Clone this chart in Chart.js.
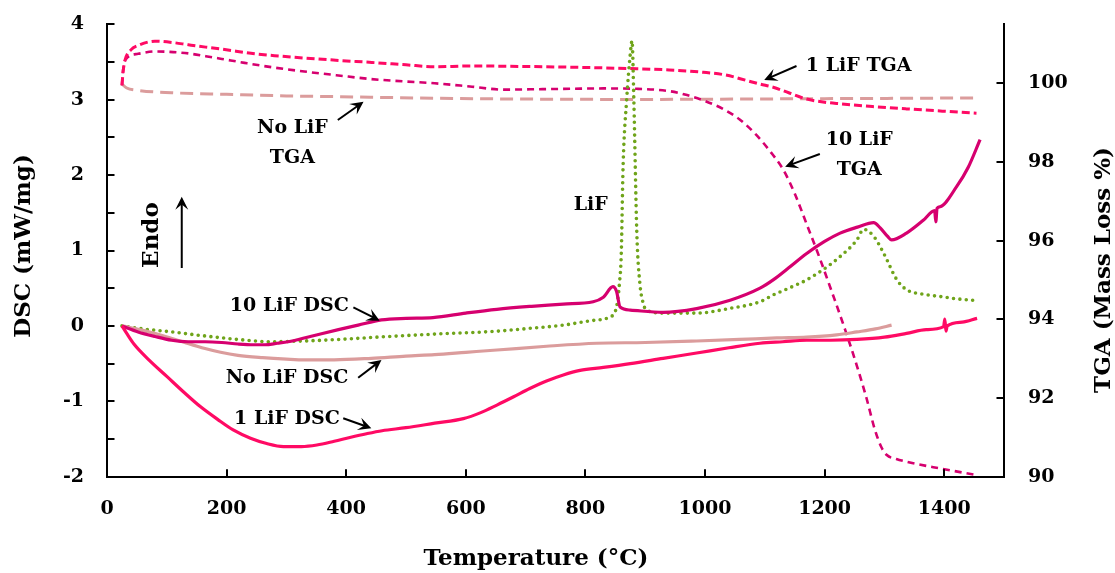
<!DOCTYPE html>
<html>
<head>
<meta charset="utf-8">
<script src="https://cdn.jsdelivr.net/npm/chart.js@4.4.1/dist/chart.umd.min.js"></script>
<style>
  html, body { margin: 0; padding: 0; background: #fff; }
  canvas { display: block; }
</style>
</head>
<body>
<canvas id="c" width="1115" height="573"></canvas>
<script>
// ---- tick labels ----
const xTicks = [0, 200, 400, 600, 800, 1000, 1200, 1400];
const dscTicks = [-2, -1, 0, 1, 2, 3, 4];
const dscMinorTicks = [-1.5, -0.5, 0.5, 1.5, 2.5, 3.5];
const tgaTicks = [90, 92, 94, 96, 98, 100];

// ---- 1 LiF DSC (mW/mg) ----
const dsc1T = [25, 33, 45, 70, 100, 130, 156, 185, 211, 240, 267, 295, 325, 351, 380, 406, 434, 460, 500, 548, 596, 625, 652, 680, 707, 735, 763, 791, 830, 875, 930, 986, 1040, 1092, 1130, 1170, 1210, 1254, 1300, 1337, 1370, 1399, 1401, 1403, 1405, 1430, 1455];
const dsc1V = [0.0, -0.10, -0.24, -0.45, -0.67, -0.89, -1.07, -1.24, -1.38, -1.49, -1.56, -1.60, -1.60, -1.58, -1.53, -1.48, -1.43, -1.39, -1.35, -1.29, -1.23, -1.15, -1.05, -0.94, -0.83, -0.73, -0.65, -0.59, -0.55, -0.50, -0.43, -0.36, -0.29, -0.23, -0.21, -0.19, -0.19, -0.18, -0.15, -0.10, -0.05, -0.01, 0.09, -0.07, 0.00, 0.05, 0.10];

// ---- 10 LiF DSC (mW/mg) ----
const dsc10T = [25, 52, 80, 108, 136, 164, 192, 219, 245, 264, 285, 303, 340, 387, 420, 459, 500, 545, 600, 652, 710, 763, 813, 830, 846, 852, 858, 875, 930, 986, 1042, 1092, 1114, 1140, 1170, 1200, 1226, 1255, 1282, 1293, 1305, 1312, 1337, 1365, 1384, 1386, 1388, 1393, 1421, 1440, 1460];
const dsc10V = [0.0, -0.08, -0.14, -0.19, -0.21, -0.21, -0.22, -0.24, -0.25, -0.25, -0.23, -0.21, -0.14, -0.05, 0.01, 0.08, 0.10, 0.11, 0.17, 0.22, 0.26, 0.29, 0.32, 0.38, 0.52, 0.46, 0.25, 0.21, 0.18, 0.23, 0.34, 0.50, 0.61, 0.77, 0.96, 1.12, 1.23, 1.31, 1.37, 1.30, 1.19, 1.14, 1.23, 1.40, 1.53, 1.38, 1.56, 1.58, 1.85, 2.10, 2.47];

// ---- No LiF DSC (mW/mg) ----
const dscNoT = [25, 60, 102, 130, 164, 190, 219, 260, 300, 331, 380, 442, 500, 548, 600, 652, 735, 819, 900, 986, 1058, 1120, 1170, 1220, 1254, 1285, 1312];
const dscNoV = [0.0, -0.06, -0.15, -0.22, -0.30, -0.35, -0.39, -0.42, -0.44, -0.45, -0.45, -0.43, -0.40, -0.38, -0.35, -0.32, -0.27, -0.23, -0.22, -0.20, -0.18, -0.16, -0.15, -0.12, -0.08, -0.04, 0.01];

// ---- LiF DSC (mW/mg) ----
const dscLiFT = [25, 60, 108, 160, 219, 275, 330, 387, 450, 545, 652, 710, 763, 810, 841, 852, 857, 860, 863, 869, 875, 878, 881, 886, 891, 896, 902, 930, 986, 1040, 1092, 1114, 1140, 1170, 1200, 1226, 1254, 1265, 1282, 1299, 1321, 1337, 1365, 1393, 1420, 1449];
const dscLiFV = [0.0, -0.04, -0.08, -0.13, -0.18, -0.21, -0.20, -0.18, -0.15, -0.11, -0.07, -0.03, 0.01, 0.07, 0.12, 0.25, 0.57, 0.96, 2.11, 3.00, 3.60, 3.78, 3.00, 1.23, 0.57, 0.32, 0.21, 0.17, 0.17, 0.23, 0.32, 0.41, 0.50, 0.61, 0.76, 0.92, 1.14, 1.28, 1.19, 0.96, 0.61, 0.48, 0.42, 0.39, 0.36, 0.34];

// ---- 1 LiF TGA (mass %) ----
const tga1T = [25, 27, 30, 40, 52, 80, 108, 136, 165, 192, 247, 290, 331, 390, 443, 500, 548, 607, 690, 774, 886, 940, 997, 1035, 1070, 1092, 1114, 1140, 1170, 1200, 1226, 1280, 1337, 1400, 1454];
const tga1M = [99.95, 100.30, 100.58, 100.85, 100.96, 101.07, 101.04, 100.98, 100.92, 100.87, 100.75, 100.69, 100.64, 100.58, 100.53, 100.47, 100.42, 100.44, 100.43, 100.41, 100.37, 100.34, 100.28, 100.21, 100.07, 99.98, 99.90, 99.76, 99.60, 99.52, 99.48, 99.41, 99.35, 99.29, 99.24];

// ---- 10 LiF TGA (mass %) ----
const tga10T = [25, 27, 33, 52, 80, 105, 136, 165, 192, 230, 275, 330, 387, 440, 495, 548, 607, 663, 720, 774, 830, 886, 941, 970, 1000, 1030, 1058, 1085, 1110, 1131, 1150, 1170, 1192, 1214, 1234, 1254, 1270, 1284, 1295, 1304, 1320, 1337, 1393, 1455];
const tga10M = [99.95, 100.35, 100.64, 100.75, 100.81, 100.80, 100.76, 100.69, 100.62, 100.52, 100.41, 100.30, 100.20, 100.11, 100.05, 100.00, 99.92, 99.84, 99.85, 99.86, 99.87, 99.86, 99.80, 99.70, 99.55, 99.35, 99.08, 98.70, 98.25, 97.80, 97.20, 96.42, 95.55, 94.62, 93.75, 92.82, 92.00, 91.20, 90.75, 90.55, 90.45, 90.38, 90.21, 90.04];

// ---- No LiF TGA (mass %) ----
const tgaNoT = [25, 33, 52, 108, 200, 300, 387, 548, 700, 886, 1058, 1200, 1350, 1454];
const tgaNoM = [99.98, 99.88, 99.82, 99.76, 99.72, 99.68, 99.66, 99.62, 99.60, 99.59, 99.60, 99.61, 99.62, 99.63];

// ---- text labels and arrows, placed in temperature / DSC units ----
const notes = [
  { lines: ['1 LiF TGA'], x: 1257, y: 3.45 },
  { lines: ['No LiF', 'TGA'], x: 310, y: 2.625 },
  { lines: ['10 LiF', 'TGA'], x: 1258, y: 2.465 },
  { lines: ['LiF'], x: 809, y: 1.603 },
  { lines: ['10 LiF DSC'], x: 305, y: 0.257 },
  { lines: ['No LiF DSC'], x: 301, y: -0.691 },
  { lines: ['1 LiF DSC'], x: 301, y: -1.235 }
];
const arrows = [
  { from: [1153, 3.447], to: [1099, 3.261] },
  { from: [386, 2.731], to: [429, 2.973] },
  { from: [1192, 2.280], to: [1134, 2.111] },
  { from: [412, 0.247], to: [456, 0.069] },
  { from: [420, -0.687], to: [459, -0.452] },
  { from: [395, -1.225], to: [442, -1.358] },
  { from: [125, 0.768], to: [125, 1.714] }
];
const endoLabel = { text: 'Endo', x: 75, y: 1.205 };

const PINK = '#FF0A64';
const MAGENTA = '#D6006F';
const ROSE = '#DB9C9C';
const GREEN = '#6FA41A';
const FONT = '"DejaVu Serif", "Liberation Serif", serif';

const pts = (xs, ys) => xs.map((x, i) => ({ x: x, y: ys[i] }));

const lineBase = { pointRadius: 0, fill: false, cubicInterpolationMode: 'monotone' };

const datasets = [
  Object.assign({ label: '1 LiF DSC', data: pts(dsc1T, dsc1V), yAxisID: 'y', borderColor: PINK, borderWidth: 3.2 }, lineBase),
  Object.assign({ label: '10 LiF DSC', data: pts(dsc10T, dsc10V), yAxisID: 'y', borderColor: MAGENTA, borderWidth: 3.2 }, lineBase),
  Object.assign({ label: 'No LiF DSC', data: pts(dscNoT, dscNoV), yAxisID: 'y', borderColor: ROSE, borderWidth: 3.2 }, lineBase),
  Object.assign({ label: 'LiF', data: pts(dscLiFT, dscLiFV), yAxisID: 'y', borderColor: GREEN, borderWidth: 3.6, borderDash: [0, 6.4], borderCapStyle: 'round' }, lineBase),
  Object.assign({ label: '1 LiF TGA', data: pts(tga1T, tga1M), yAxisID: 'y2', borderColor: PINK, borderWidth: 3, borderDash: [8, 4] }, lineBase),
  Object.assign({ label: '10 LiF TGA', data: pts(tga10T, tga10M), yAxisID: 'y2', borderColor: MAGENTA, borderWidth: 2.6, borderDash: [7, 5] }, lineBase),
  Object.assign({ label: 'No LiF TGA', data: pts(tgaNoT, tgaNoM), yAxisID: 'y2', borderColor: ROSE, borderWidth: 3, borderDash: [13, 7] }, lineBase)
];

const tickFont = { family: FONT, size: 19, weight: 'bold' };
const axisBorder = { display: true, color: '#000', width: 2 };

function setTicks(values) {
  return function (scale) { scale.ticks = values.map(v => ({ value: v })); };
}
function fixedSize(prop, size) {
  return function (scale) {
    scale[prop] = size;
    scale.paddingTop = 0; scale.paddingBottom = 0;
    scale.paddingLeft = 0; scale.paddingRight = 0;
  };
}

// inward tick marks, axis titles, annotations
const decor = {
  id: 'decor',
  afterDraw(chart) {
    const ctx = chart.ctx;
    const a = chart.chartArea;
    const sx = chart.scales.x, sy = chart.scales.y, s2 = chart.scales.y2;
    const L = 7.5;
    ctx.save();
    ctx.strokeStyle = '#000';
    ctx.lineWidth = 2;
    ctx.beginPath();
    xTicks.forEach(v => {
      const px = Math.round(sx.getPixelForValue(v));
      ctx.moveTo(px, a.bottom); ctx.lineTo(px, a.bottom - L);
    });
    dscTicks.concat(dscMinorTicks).forEach(v => {
      const py = Math.round(sy.getPixelForValue(v));
      ctx.moveTo(a.left, py); ctx.lineTo(a.left + L, py);
    });
    tgaTicks.forEach(v => {
      const py = Math.round(s2.getPixelForValue(v));
      ctx.moveTo(a.right, py); ctx.lineTo(a.right - L, py);
    });
    ctx.stroke();

    // axis titles
    ctx.fillStyle = '#000';
    ctx.textAlign = 'center';
    ctx.textBaseline = 'middle';
    ctx.font = 'bold 23px ' + FONT;
    ctx.fillText('Temperature (\u00B0C)', 536, 559);
    ctx.save();
    ctx.translate(24, 246); ctx.rotate(-Math.PI / 2);
    ctx.fillText('DSC (mW/mg)', 0, 0);
    ctx.restore();
    ctx.save();
    ctx.translate(1104, 270); ctx.rotate(-Math.PI / 2);
    ctx.fillText('TGA (Mass Loss %)', 0, 0);
    ctx.restore();

    // annotation text
    ctx.font = 'bold 19px ' + FONT;
    notes.forEach(n => {
      const px = sx.getPixelForValue(n.x), py = sy.getPixelForValue(n.y);
      n.lines.forEach((t, i) => ctx.fillText(t, px, py + i * 30));
    });
    ctx.save();
    ctx.font = 'bold 23px ' + FONT;
    ctx.translate(sx.getPixelForValue(endoLabel.x), sy.getPixelForValue(endoLabel.y));
    ctx.rotate(-Math.PI / 2);
    ctx.fillText(endoLabel.text, 0, 0);
    ctx.restore();

    // arrows
    arrows.forEach(ar => {
      const x0 = sx.getPixelForValue(ar.from[0]), y0 = sy.getPixelForValue(ar.from[1]);
      const x1 = sx.getPixelForValue(ar.to[0]), y1 = sy.getPixelForValue(ar.to[1]);
      const ang = Math.atan2(y1 - y0, x1 - x0);
      const hl = 13, hw = 6.5;
      const bx = x1 - Math.cos(ang) * hl, by = y1 - Math.sin(ang) * hl;
      ctx.beginPath();
      ctx.lineWidth = 2;
      ctx.moveTo(x0, y0);
      ctx.lineTo(x1 - Math.cos(ang) * 6, y1 - Math.sin(ang) * 6);
      ctx.stroke();
      const nx = -Math.sin(ang), ny = Math.cos(ang);
      ctx.beginPath();
      ctx.moveTo(x1, y1);
      ctx.lineTo(bx + nx * hw, by + ny * hw);
      ctx.lineTo(x1 - Math.cos(ang) * hl * 0.6, y1 - Math.sin(ang) * hl * 0.6);
      ctx.lineTo(bx - nx * hw, by - ny * hw);
      ctx.closePath();
      ctx.fill();
    });
    ctx.restore();
  }
};

new Chart(document.getElementById('c'), {
  type: 'line',
  data: { datasets: datasets },
  options: {
    responsive: false,
    animation: false,
    devicePixelRatio: 1,
    layout: { padding: { top: 24.3, left: 0, right: 0, bottom: 0 } },
    plugins: { legend: { display: false }, tooltip: { enabled: false } },
    scales: {
      x: {
        type: 'linear', position: 'bottom', min: 0, max: 1500,
        afterBuildTicks: setTicks(xTicks),
        afterFit: fixedSize('height', 96.3),
        grid: { display: false, drawTicks: false },
        border: axisBorder,
        ticks: { font: tickFont, color: '#000', padding: 21, autoSkip: false, maxRotation: 0, callback: v => String(v) }
      },
      y: {
        type: 'linear', position: 'left', min: -2, max: 4,
        afterBuildTicks: setTicks(dscTicks),
        afterFit: fixedSize('width', 107),
        grid: { display: false, drawTicks: false },
        border: axisBorder,
        ticks: { font: tickFont, color: '#000', padding: 23, autoSkip: false, callback: v => String(v) }
      },
      y2: {
        type: 'linear', position: 'right', min: 90, max: 101.5,
        afterBuildTicks: setTicks(tgaTicks),
        afterFit: fixedSize('width', 111),
        grid: { display: false, drawTicks: false },
        border: axisBorder,
        ticks: { font: tickFont, color: '#000', padding: 24, autoSkip: false, callback: v => String(v) }
      }
    }
  },
  plugins: [decor]
});
</script>
</body>
</html>
